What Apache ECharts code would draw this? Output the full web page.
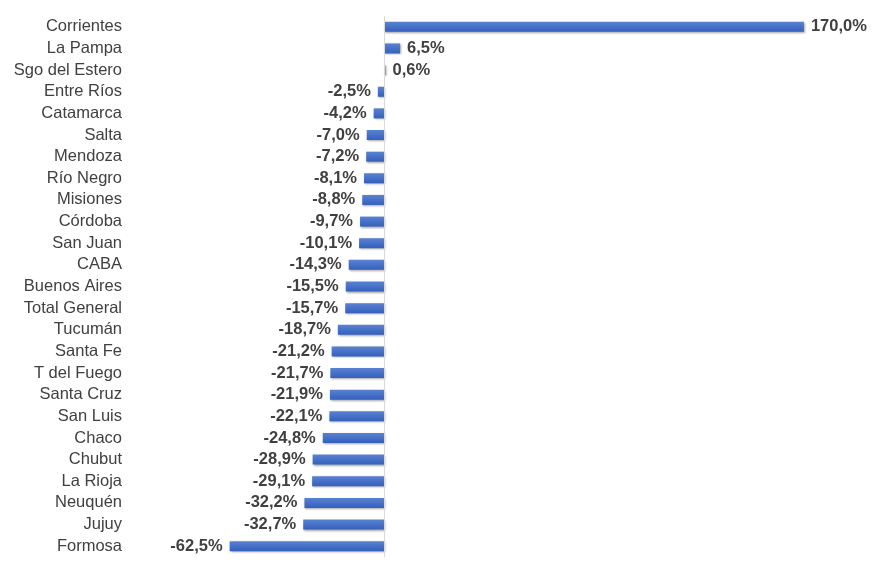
<!DOCTYPE html>
<html><head><meta charset="utf-8">
<script src="https://cdn.jsdelivr.net/npm/echarts@6/dist/echarts.min.js"></script>
<style>html,body{margin:0;padding:0;background:#fff}#c{width:892px;height:569px}</style>
</head><body><div id="c"></div>
<script>
const categories = ["Corrientes","La Pampa","Sgo del Estero","Entre Ríos","Catamarca","Salta","Mendoza","Río Negro","Misiones","Córdoba","San Juan","CABA","Buenos Aires","Total General","Tucumán","Santa Fe","T del Fuego","Santa Cruz","San Luis","Chaco","Chubut","La Rioja","Neuquén","Jujuy","Formosa"];
const values = [170.0,6.5,0.6,-2.5,-4.2,-7.0,-7.2,-8.1,-8.8,-9.7,-10.1,-14.3,-15.5,-15.7,-18.7,-21.2,-21.7,-21.9,-22.1,-24.8,-28.9,-29.1,-32.2,-32.7,-62.5];

const chart = echarts.init(document.getElementById('c'));
const fmt = v => v.toFixed(1).replace('.', ',') + '%';
chart.setOption({
  animation:false,
  grid:{left:137,right:14,top:16,bottom:12},
  xAxis:{type:'value',min:-100,max:200,show:false},
  yAxis:{type:'category',data:categories,inverse:true,
    axisLine:{show:false,onZero:false},axisTick:{show:false},
    axisLabel:{interval:0,margin:15,color:'#404040',fontSize:16.5,fontFamily:'Liberation Sans, Arial, sans-serif'}},
  series:[{
    type:'bar',barWidth:10,
    data:values.map(v=>({value:v,label:{position:v>=0?'right':'left'}})),
    itemStyle:{color:new echarts.graphic.LinearGradient(0,0,0,1,[{offset:0,color:'#5a82d2'},{offset:1,color:'#3360bd'}]),
      shadowColor:'rgba(0,0,0,0.35)',shadowBlur:2,shadowOffsetX:1,shadowOffsetY:1},
    label:{show:true,distance:7,formatter:p=>fmt(p.value),fontWeight:'bold',fontSize:16.5,color:'#404040',fontFamily:'Liberation Sans, Arial, sans-serif'},
    markLine:{silent:true,symbol:'none',label:{show:false},
      lineStyle:{color:'#d9d9d9',width:1,type:'solid'},data:[{xAxis:0}]}
  }]
});
</script></body></html>
